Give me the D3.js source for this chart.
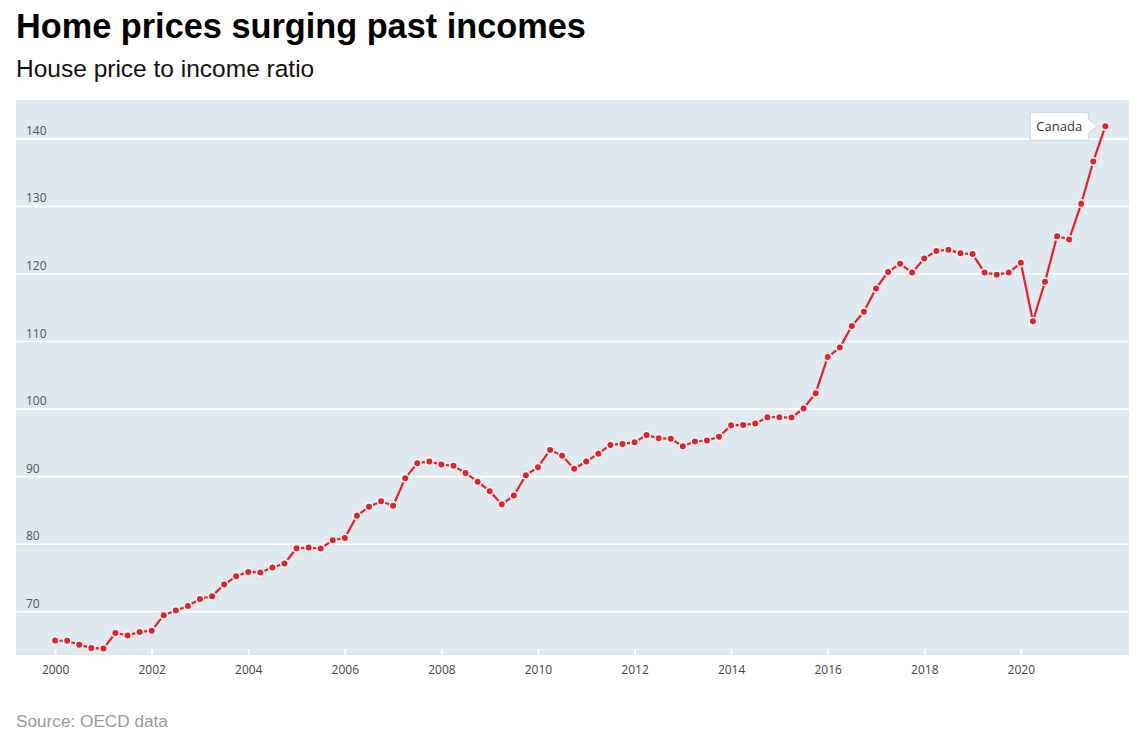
<!DOCTYPE html>
<html>
<head>
<meta charset="utf-8">
<script src="https://cdn.jsdelivr.net/npm/d3@7"></script>
<style>
  body { margin: 0; background: #fff; }
  svg { display: block; }
</style>
</head>
<body>
<div id="chart"></div>
<script>
// Quarterly house price to income ratio, Canada (OECD), 2000 Q1 .. 2021 Q4
const years = [2000, 2001, 2002, 2003, 2004, 2005, 2006, 2007, 2008, 2009, 2010,
               2011, 2012, 2013, 2014, 2015, 2016, 2017, 2018, 2019, 2020, 2021];
const quarters = ["Q1", "Q2", "Q3", "Q4"];
const ratio = [
  65.75, 65.7, 65.1, 64.65,
  64.55, 66.85, 66.5, 67.0,
  67.2, 69.5, 70.2, 70.85,
  71.9, 72.3, 74.05, 75.25,
  75.9, 75.8, 76.55, 77.15,
  79.4, 79.5, 79.35, 80.6,
  80.9, 84.2, 85.55, 86.35,
  85.7, 89.75, 92.0, 92.25,
  91.8, 91.6, 90.55, 89.25,
  87.85, 85.9, 87.2, 90.2,
  91.4, 93.95, 93.1, 91.15,
  92.25, 93.4, 94.7, 94.85,
  95.1, 96.15, 95.7, 95.6,
  94.5, 95.2, 95.35, 95.9,
  97.6, 97.65, 97.85, 98.8,
  98.8, 98.75, 100.1, 102.35,
  107.7, 109.1, 112.3, 114.4,
  117.85, 120.3, 121.5, 120.2,
  122.3, 123.4, 123.6, 123.05,
  122.95, 120.2, 119.9, 120.2,
  121.65, 113.0, 118.85, 125.6,
  125.1, 130.4, 136.65, 141.85
];
const xTicks = [2000, 2002, 2004, 2006, 2008, 2010, 2012, 2014, 2016, 2018, 2020];
const yTicks = [70, 80, 90, 100, 110, 120, 130, 140];
const seriesName = "Canada";

(function () {
  "use strict";

  const width = 1144, height = 752;
  // plot box
  const plot = { left: 16, right: 1129, top: 100, bottom: 655 };

  const svg = d3.select("#chart").append("svg")
    .attr("width", width)
    .attr("height", height);

  // one row per quarter, x as decimal year
  const data = [];
  years.forEach(function (yr, i) {
    quarters.forEach(function (q, j) {
      data.push({ label: yr + " " + q, t: yr + j / 4, v: ratio[i * 4 + j] });
    });
  });

  const x = d3.scaleLinear()
    .domain([1999.19, 2022.24])
    .range([plot.left, plot.right]);

  const y = d3.scaleLinear()
    .domain([63.6, 145.75])
    .range([plot.bottom, plot.top]);

  // titles
  svg.append("text")
    .attr("x", 16).attr("y", 38)
    .style("font-family", "'Liberation Sans', Arial, sans-serif")
    .style("font-weight", "bold")
    .style("font-size", "34.3px")
    .attr("fill", "#000")
    .text("Home prices surging past incomes");

  svg.append("text")
    .attr("x", 16).attr("y", 77)
    .style("font-family", "'Liberation Sans', Arial, sans-serif")
    .style("font-size", "24.5px")
    .attr("fill", "#111")
    .text("House price to income ratio");

  // background
  svg.append("rect")
    .attr("x", plot.left).attr("y", plot.top)
    .attr("width", plot.right - plot.left)
    .attr("height", plot.bottom - plot.top)
    .attr("fill", "#dfe9f0");

  // gridlines
  svg.append("g")
    .selectAll("line")
    .data(yTicks)
    .join("line")
      .attr("x1", plot.left).attr("x2", plot.right)
      .attr("y1", d => y(d)).attr("y2", d => y(d))
      .attr("stroke", "#fff")
      .attr("stroke-width", 1.6);

  // y labels, sitting above the gridline
  svg.append("g")
    .selectAll("text")
    .data(yTicks)
    .join("text")
      .attr("x", 26)
      .attr("y", d => y(d) - 4)
      .style("font-family", "'Open Sans', sans-serif")
      .style("font-size", "12px")
      .attr("fill", "#555")
      .text(d => d);

  // x axis: small white ticks inside the plot, labels below
  const xAxis = d3.axisBottom(x)
    .tickValues(xTicks)
    .tickFormat(d3.format("d"))
    .tickSize(6)
    .tickPadding(10);

  const gx = svg.append("g")
    .attr("transform", "translate(0," + (plot.bottom - 6) + ")")
    .call(xAxis);
  gx.select(".domain").remove();
  gx.selectAll(".tick line")
    .attr("stroke", "#fff")
    .attr("stroke-width", 2);
  gx.selectAll(".tick text")
    .style("font-family", "'Open Sans', sans-serif")
    .style("font-size", "12px")
    .attr("fill", "#444");

  // line
  const line = d3.line()
    .x(d => x(d.t))
    .y(d => y(d.v));

  svg.append("path")
    .datum(data)
    .attr("d", line)
    .attr("fill", "none")
    .attr("stroke", "#e5202b")
    .attr("stroke-width", 2.2)
    .attr("stroke-linejoin", "round");

  svg.append("g")
    .selectAll("circle")
    .data(data)
    .join("circle")
      .attr("cx", d => x(d.t))
      .attr("cy", d => y(d.v))
      .attr("r", 3.8)
      .attr("fill", "#e5202b")
      .attr("stroke", "#f4f7fa")
      .attr("stroke-width", 1.6);

  // series label callout next to the last point
  const last = data[data.length - 1];
  const tipX = x(last.t) - 8, tipY = y(last.v);
  const bw = 58, bh = 28, aw = 9, ah = 7;
  const bx = tipX - aw - bw, by = tipY - bh / 2;

  const callout = svg.append("g");
  callout.append("path")
    .attr("d", "M" + bx + "," + by +
               "H" + (bx + bw) +
               "V" + (tipY - ah) +
               "L" + tipX + "," + tipY +
               "L" + (bx + bw) + "," + (tipY + ah) +
               "V" + (by + bh) +
               "H" + bx + "Z")
    .attr("fill", "#fff")
    .attr("stroke", "#c5d7e6")
    .attr("stroke-width", 1);
  callout.append("text")
    .attr("x", bx + 6)
    .attr("y", tipY + 4.5)
    .style("font-family", "'Open Sans', sans-serif")
    .style("font-size", "13px")
    .attr("fill", "#333")
    .text(seriesName);

  // source
  svg.append("text")
    .attr("x", 16).attr("y", 727)
    .style("font-family", "'Liberation Sans', Arial, sans-serif")
    .style("font-size", "17.2px")
    .attr("fill", "#9a9a9a")
    .text("Source: OECD data");
})();
</script>
</body>
</html>
